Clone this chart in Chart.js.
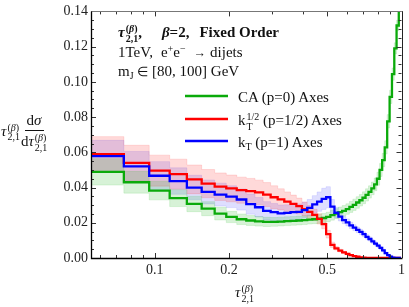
<!DOCTYPE html>
<html>
<head>
<meta charset="utf-8">
<script src="https://cdn.jsdelivr.net/npm/chart.js@4.4.0/dist/chart.umd.min.js"></script>
<style>
  body { margin: 0; background: #fff; }
  #wrap { position: relative; width: 409px; height: 307px; overflow: hidden; }
  #c { position: absolute; left: 0; top: 0; }
  .t { position: absolute; font-family: "Liberation Serif", "Times New Roman", serif; font-size: 15px; color: #111; white-space: nowrap; line-height: 1; }
  .ss { display: inline-flex; flex-direction: column; font-size: 10px; line-height: 9.5px; vertical-align: 5px; margin-left: 1px; }
  .sub { font-size: 10px; vertical-align: -3px; }
  .sup { font-size: 10px; vertical-align: 5px; }
  .sym { font-size: 12.5px; }
  .gap { display: inline-block; }
  .frac { display: inline-flex; flex-direction: column; align-items: center; vertical-align: middle; }
  .frac .num { padding: 0 2px 2px 2px; border-bottom: 1px solid #111; }
  .frac .den { padding: 2px 1px 0 1px; }
</style>
</head>
<body>
<div id="wrap">
  <canvas id="c" width="409" height="307"></canvas>

  <div class="t" style="left:118px; top:24px; font-weight:bold;"><i>τ</i><span class="ss"><span>(<i>β</i>)</span><span>2,1</span></span>,<span class="gap" style="width:20px"></span><i>β</i>=2,<span class="gap" style="width:10px"></span>Fixed Order</div>
  <div class="t" style="left:118px; top:44px;">1TeV,<span class="gap" style="width:8px"></span>e<span class="sup">+</span>e<span class="sup">−</span><span class="gap" style="width:8px"></span><span class="sym">→</span><span class="gap" style="width:4px"></span>dijets</div>
  <div class="t" style="left:118px; top:64px;">m<span class="sub">J</span> <span class="sym">∈</span> [80, 100] GeV</div>

  <div class="t" style="left:238px; top:90px;">CA (p=0) Axes</div>
  <div class="t" style="left:238px; top:112px;">k<span class="ss"><span>1/2</span><span>T</span></span> (p=1/2) Axes</div>
  <div class="t" style="left:238px; top:135px;">k<span class="sub">T</span> (p=1) Axes</div>

  <div class="t" style="left:1px; top:113px;"><i>τ</i><span class="ss"><span>(<i>β</i>)</span><span>2,1</span></span><span class="frac"><span class="num">d<i>σ</i></span><span class="den">d<i>τ</i><span class="ss"><span>(<i>β</i>)</span><span>2,1</span></span></span></span></div>

  <div class="t" style="left:235px; top:284px;"><i>τ</i><span class="ss"><span>(<i>β</i>)</span><span>2,1</span></span></div>
</div>

<script>
// bin edges (linear bins of width 0.02 on a log axis)
const edges = [0.055, 0.075, 0.095, 0.115, 0.135, 0.155, 0.175, 0.195, 0.215, 0.235,
  0.255, 0.275, 0.295, 0.315, 0.335, 0.355, 0.375, 0.395, 0.415, 0.435,
  0.455, 0.475, 0.495, 0.515, 0.535, 0.555, 0.575, 0.595, 0.615, 0.635,
  0.655, 0.675, 0.695, 0.715, 0.735, 0.755, 0.775, 0.795, 0.815, 0.835,
  0.855, 0.875, 0.895, 0.915, 0.935, 0.955, 0.975, 0.995];

// CA (p=0) axes
const caVals = [0.0489, 0.0430, 0.0383, 0.0340, 0.0307, 0.0280, 0.0252, 0.0233, 0.0220, 0.0213,
  0.0208, 0.0205, 0.0205, 0.0207, 0.0209, 0.0211, 0.0213, 0.0215, 0.0218, 0.0220,
  0.0223, 0.0227, 0.0233, 0.0243, 0.0252, 0.0260, 0.0268, 0.0278, 0.0290, 0.0302,
  0.0315, 0.0328, 0.0342, 0.0358, 0.0375, 0.0395, 0.0418, 0.0450, 0.0500, 0.0556,
  0.0628, 0.0776, 0.0915, 0.1044, 0.1190, 0.1320, 0.1600];
const caErr = [0.0075, 0.0062, 0.0053, 0.0048, 0.0044, 0.0040, 0.0036, 0.0032, 0.0030, 0.0028,
  0.0027, 0.0026, 0.0025, 0.0025, 0.0025, 0.0025, 0.0025, 0.0025, 0.0025, 0.0025,
  0.0026, 0.0026, 0.0027, 0.0028, 0.0028, 0.0029, 0.0030, 0.0030, 0.0031, 0.0032,
  0.0033, 0.0033, 0.0034, 0.0035, 0.0035, 0.0036, 0.0036, 0.0037, 0.0037, 0.0038,
  0.0038, 0.0038, 0.0038, 0.0035, 0.0032, 0.0030, 0.0030];

// kT^(1/2) (p=1/2) axes
const kthVals = [0.0589, 0.0540, 0.0496, 0.0476, 0.0446, 0.0422, 0.0405, 0.0395, 0.0385, 0.0380,
  0.0372, 0.0360, 0.0345, 0.0333, 0.0320, 0.0307, 0.0295, 0.0278, 0.0262, 0.0245,
  0.0222, 0.0192, 0.0135, 0.0075, 0.0055, 0.0042, 0.0032, 0.0023, 0.0016, 0.0011,
  0.0007, 0.0004, 0.0002, 0, 0, 0, 0, 0, 0, 0,
  0, 0, 0, 0, 0, 0, 0];
const kthErr = [0.0100, 0.0100, 0.0088, 0.0085, 0.0082, 0.0080, 0.0078, 0.0076, 0.0074, 0.0072,
  0.0070, 0.0068, 0.0065, 0.0060, 0.0055, 0.0050, 0.0045, 0.0040, 0.0036, 0.0032,
  0.0029, 0.0026, 0.0022, 0.0015, 0.0010, 0.0008, 0.0006, 0.0005, 0.0004, 0.0003,
  0.0002, 0.0001, 0.0001, 0, 0, 0, 0, 0, 0, 0,
  0, 0, 0, 0, 0, 0, 0];

// kT (p=1) axes
const ktVals = [0.0578, 0.0520, 0.0467, 0.0437, 0.0400, 0.0375, 0.0360, 0.0348, 0.0332, 0.0306,
  0.0288, 0.0268, 0.0260, 0.0253, 0.0256, 0.0260, 0.0262, 0.0272, 0.0285, 0.0304,
  0.0320, 0.0336, 0.0345, 0.0292, 0.0257, 0.0235, 0.0215, 0.0202, 0.0185, 0.0172,
  0.0160, 0.0148, 0.0135, 0.0120, 0.0108, 0.0094, 0.0082, 0.0070, 0.0057, 0.0043,
  0.0028, 0.0016, 0.0008, 0.0002, 0, 0, 0];
const ktErr = [0.0090, 0.0085, 0.0080, 0.0075, 0.0070, 0.0068, 0.0065, 0.0062, 0.0060, 0.0057,
  0.0055, 0.0052, 0.0050, 0.0048, 0.0046, 0.0045, 0.0045, 0.0045, 0.0047, 0.0050,
  0.0055, 0.0060, 0.0060, 0.0040, 0.0030, 0.0025, 0.0020, 0.0020, 0.0018, 0.0017,
  0.0016, 0.0015, 0.0014, 0.0013, 0.0012, 0.0011, 0.0010, 0.0010, 0.0009, 0.0008,
  0.0007, 0.0006, 0.0005, 0.0003, 0.0001, 0, 0];

const xLabels = [0.1, 0.2, 0.5, 1];
const xMinor = [0.06, 0.07, 0.08, 0.09, 0.3, 0.4, 0.6, 0.7, 0.8, 0.9];

const GREEN = 'rgb(10,170,10)', RED = 'rgb(255,0,0)', BLUE = 'rgb(0,0,255)';

// histogram -> step points at bin edges (value of bin i held from edge i to edge i+1)
function steps(vals) {
  return edges.map((e, i) => ({ x: e, y: vals[Math.max(0, i - 1)] }));
}
function upper(vals, err) { return vals.map((v, i) => v + err[i]); }
function lower(vals, err) { return vals.map((v, i) => Math.max(0, v - err[i])); }

function bandPair(vals, err, fillCol, edgeCol) {
  const base = { stepped: 'after', pointRadius: 0, borderWidth: 1, borderColor: edgeCol, order: 10 };
  return [
    Object.assign({}, base, { data: steps(upper(vals, err)), fill: false }),
    Object.assign({}, base, { data: steps(lower(vals, err)), fill: '-1', backgroundColor: fillCol })
  ];
}
function line(vals, col, ord) {
  return { data: steps(vals), stepped: 'after', pointRadius: 0, borderWidth: 2.3, borderColor: col, fill: false, order: ord };
}

const frame = {
  id: 'frame',
  afterDraw(chart) {
    const { ctx, chartArea: a, scales: { x, y } } = chart;
    ctx.save();
    ctx.strokeStyle = '#333';
    ctx.lineWidth = 1;
    ctx.beginPath();
    for (let k = 0; k <= 28; k++) {
      const py = Math.round(y.getPixelForValue(k * 0.005)) + 0.5;
      const len = k % 4 === 0 ? 5 : 3;
      ctx.moveTo(a.left, py); ctx.lineTo(a.left + len, py);
      ctx.moveTo(a.right, py); ctx.lineTo(a.right - len, py);
    }
    xLabels.concat(xMinor).forEach(v => {
      const px = Math.round(x.getPixelForValue(v)) + 0.5;
      const len = xLabels.includes(v) ? 5 : 3;
      ctx.moveTo(px, a.bottom); ctx.lineTo(px, a.bottom - len);
      ctx.moveTo(px, a.top); ctx.lineTo(px, a.top + len);
    });
    ctx.stroke();
    ctx.strokeStyle = '#777';
    ctx.beginPath();
    ctx.moveTo(a.left, Math.round(a.top) + 0.5); ctx.lineTo(a.right, Math.round(a.top) + 0.5);
    ctx.stroke();
    ctx.strokeStyle = '#222';
    ctx.beginPath();
    ctx.moveTo(Math.round(a.right) + 0.5, a.top); ctx.lineTo(Math.round(a.right) + 0.5, a.bottom);
    ctx.stroke();
    ctx.strokeStyle = '#000';
    ctx.lineWidth = 1.3;
    ctx.beginPath();
    ctx.moveTo(a.left + 0.5, a.top); ctx.lineTo(a.left + 0.5, a.bottom + 0.5); ctx.lineTo(a.right + 1, a.bottom + 0.5);
    ctx.stroke();
    // legend swatches
    [[GREEN, 96], [RED, 119], [BLUE, 141]].forEach(([c, py]) => {
      ctx.strokeStyle = c; ctx.lineWidth = 2.3;
      ctx.beginPath(); ctx.moveTo(185, py); ctx.lineTo(228, py); ctx.stroke();
    });
    ctx.restore();
  }
};

const tickFont = { family: '"Liberation Serif", "Times New Roman", serif', size: 14 };

new Chart(document.getElementById('c'), {
  type: 'line',
  data: {
    datasets: [
      ...bandPair(caVals, caErr, 'rgba(20,180,20,0.17)', 'rgba(20,180,20,0.12)'),
      ...bandPair(kthVals, kthErr, 'rgba(255,0,0,0.15)', 'rgba(255,0,0,0.12)'),
      ...bandPair(ktVals, ktErr, 'rgba(0,0,255,0.13)', 'rgba(0,0,255,0.10)'),
      line(caVals, GREEN, 3),
      line(kthVals, RED, 2),
      line(ktVals, BLUE, 1)
    ]
  },
  options: {
    responsive: false,
    animation: false,
    devicePixelRatio: 1,
    layout: { padding: { top: 6, right: 6, left: 0, bottom: 0 } },
    plugins: { legend: { display: false }, tooltip: { enabled: false } },
    scales: {
      x: {
        type: 'logarithmic',
        min: 0.0552,
        max: 1,
        grid: { display: false, drawTicks: false },
        border: { display: false },
        afterBuildTicks: s => { s.ticks = xLabels.map(v => ({ value: v })); },
        afterFit: s => { s.height = 49; },
        ticks: { autoSkip: false, maxRotation: 0, padding: 4, color: '#222', font: tickFont, callback: v => String(v) }
      },
      y: {
        min: 0,
        max: 0.14,
        grid: { display: false, drawTicks: false },
        border: { display: false },
        afterFit: s => { s.width = 91; },
        ticks: { stepSize: 0.02, padding: 3, color: '#222', font: tickFont, callback: v => v.toFixed(2) }
      }
    }
  },
  plugins: [frame]
});
</script>
</body>
</html>
